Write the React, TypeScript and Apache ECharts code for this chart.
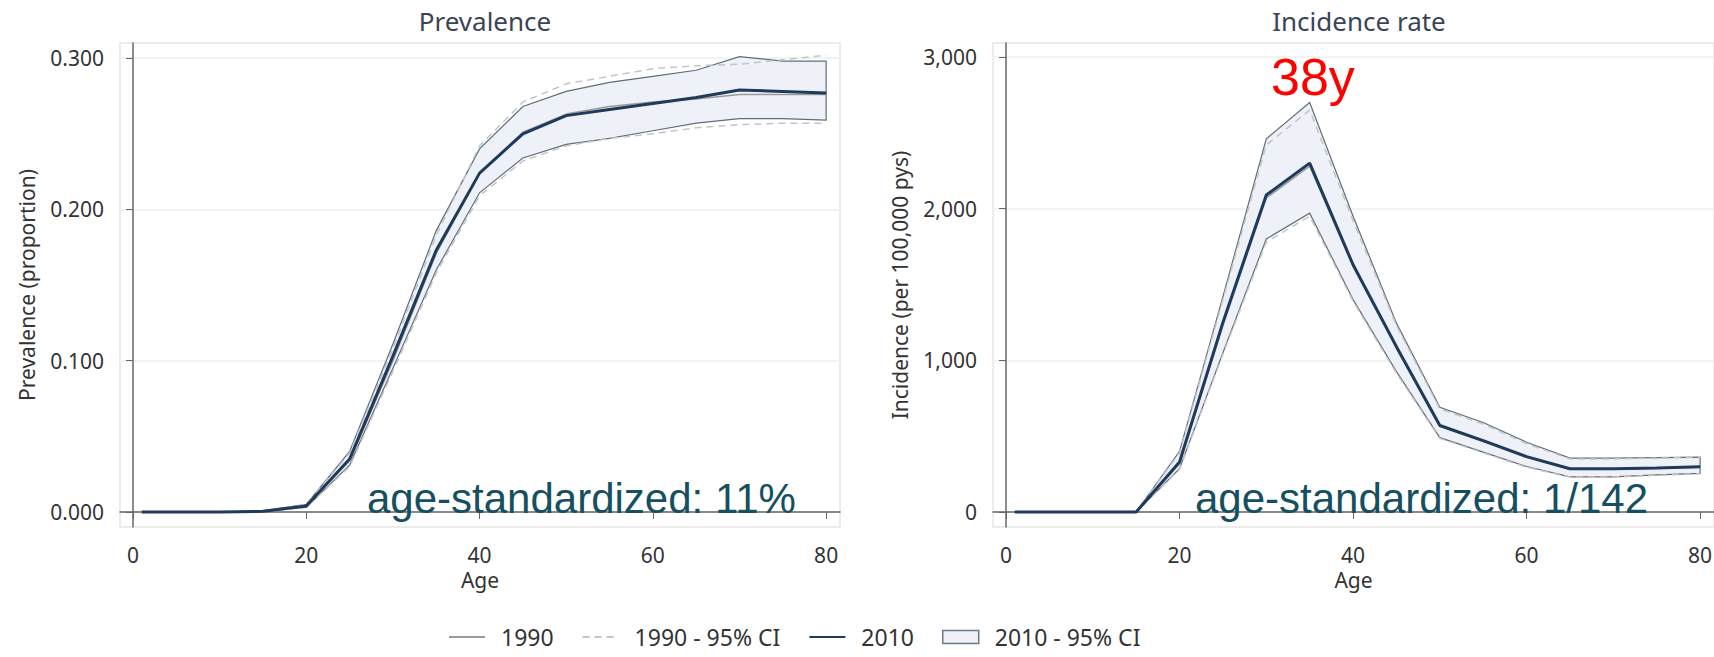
import React, { useEffect, useRef } from "react";
import * as echarts from "echarts";

// ---------- data ----------
const ages = [1, 5, 10, 15, 20, 25, 30, 35, 40, 45, 50, 55, 60, 65, 70, 75, 80];

const prev2010 = [0, 0, 0, 0.0005, 0.004, 0.035, 0.103, 0.173, 0.224, 0.25, 0.262, 0.266, 0.27, 0.274, 0.279, 0.278, 0.277];
const prev2010Upper = [0, 0, 0, 0.0008, 0.005, 0.04, 0.111, 0.186, 0.24, 0.268, 0.278, 0.284, 0.288, 0.292, 0.301, 0.298, 0.298];
const prev2010Lower = [0, 0, 0, 0.0003, 0.003, 0.031, 0.095, 0.16, 0.211, 0.234, 0.243, 0.247, 0.252, 0.257, 0.26, 0.26, 0.259];
const prev1990 = [0, 0, 0, 0.0005, 0.004, 0.034, 0.1, 0.171, 0.224, 0.251, 0.263, 0.268, 0.271, 0.273, 0.276, 0.276, 0.276];
const prev1990Upper = [0, 0, 0, 0.0008, 0.005, 0.039, 0.108, 0.183, 0.242, 0.271, 0.283, 0.288, 0.293, 0.295, 0.296, 0.299, 0.302];
const prev1990Lower = [0, 0, 0, 0.0003, 0.003, 0.03, 0.093, 0.158, 0.209, 0.232, 0.242, 0.247, 0.25, 0.254, 0.256, 0.257, 0.257];

const inc2010 = [0, 0, 0, 0, 330, 1250, 2090, 2300, 1630, 1090, 570, 470, 365, 285, 285, 290, 298];
const inc2010Upper = [0, 0, 0, 0, 400, 1420, 2460, 2700, 1950, 1245, 690, 590, 460, 355, 355, 358, 362];
const inc2010Lower = [0, 0, 0, 0, 285, 1050, 1800, 1970, 1400, 925, 490, 395, 300, 232, 232, 245, 255];
const inc1990 = [0, 0, 0, 0, 320, 1230, 2070, 2280, 1620, 1080, 565, 465, 360, 282, 282, 288, 295];
const inc1990Upper = [0, 0, 0, 0, 390, 1400, 2420, 2650, 1920, 1230, 680, 580, 450, 350, 350, 355, 360];
const inc1990Lower = [0, 0, 0, 0, 280, 1040, 1780, 1950, 1390, 915, 485, 390, 295, 230, 230, 242, 252];

const xTicks = [0, 20, 40, 60, 80];
const prevTicks = [0, 0.1, 0.2, 0.3];
const incTicks = [0, 1000, 2000, 3000];

const titles = ["Prevalence", "Incidence rate"];
const yNames = ["Prevalence (proportion)", "Incidence (per 100,000 pys)"];
const xName = "Age";
const notes = ["age-standardized: 11%", "age-standardized: 1/142"];
const peakNote = "38y";
const legendNames = ["1990", "1990 - 95% CI", "2010", "2010 - 95% CI"];

// ---------- styles ----------
const FONT = "Noto Sans";
const AXIS_COL = "#666666";
const BAND_FILL = "#eef2f8";
const BAND_STROKE = "#5f6d7d";
const C2010 = "#1f3a5a";
const C1990 = "#9a9a9a";
const C1990CI = "#c4c4c4";

const pairs = (ys: number[]) => ages.map((a, i) => [a, ys[i]]);

function bandSeries(idx: number, upper: number[], lower: number[]) {
  return {
    type: "custom",
    name: legendNames[3],
    xAxisIndex: idx,
    yAxisIndex: idx,
    z: 1,
    data: [[ages[0], lower[0]]],
    renderItem: (params: any, api: any) => {
      if (params.dataIndex !== 0) return null;
      const pts: number[][] = [];
      for (let i = 0; i < ages.length; i++) pts.push(api.coord([ages[i], upper[i]]));
      for (let i = ages.length - 1; i >= 0; i--) pts.push(api.coord([ages[i], lower[i]]));
      return {
        type: "polygon",
        shape: { points: pts },
        style: { fill: BAND_FILL, stroke: BAND_STROKE, lineWidth: 1.2 },
      };
    },
  };
}

function lineSeries(idx: number, name: string, ys: number[], color: string, width: number, dashed: boolean, z: number) {
  return {
    type: "line",
    name,
    xAxisIndex: idx,
    yAxisIndex: idx,
    data: pairs(ys),
    symbol: "none",
    z,
    lineStyle: { color, width, type: dashed ? [7, 5] : "solid" },
    itemStyle: { color },
  };
}

function makeXAxis(gridIndex: number) {
  return {
    type: "value",
    gridIndex,
    min: -1.5,
    max: 81.6,
    name: xName,
    nameLocation: "middle",
    nameGap: 40,
    nameTextStyle: { fontSize: 21, color: "#333", fontFamily: FONT },
    axisLine: { show: true, lineStyle: { color: AXIS_COL, width: 1.5 } },
    axisTick: { show: true, length: 7, lineStyle: { color: AXIS_COL }, customValues: xTicks },
    axisLabel: { customValues: xTicks, fontSize: 21, color: "#333", fontFamily: FONT, margin: 17 },
    splitLine: { show: false },
  };
}

function makeYAxis(gridIndex: number, min: number, max: number, ticks: number[], fmt: (v: number) => string, name: string) {
  return {
    type: "value",
    gridIndex,
    min,
    max,
    name,
    nameLocation: "middle",
    nameGap: 83,
    nameTextStyle: { fontSize: 21, color: "#333", fontFamily: FONT },
    axisLine: { show: true, lineStyle: { color: AXIS_COL, width: 1.5 } },
    axisTick: { show: true, length: 7, lineStyle: { color: AXIS_COL }, customValues: ticks },
    axisLabel: { customValues: ticks, fontSize: 21, color: "#333", fontFamily: FONT, margin: 16, formatter: fmt },
    splitLine: { show: true, lineStyle: { color: "#efefef", width: 1.5 } },
  };
}

export default function App() {
  const ref = useRef<HTMLDivElement>(null);

  useEffect(() => {
    if (!ref.current) return;
    const chart = echarts.init(ref.current, undefined, { renderer: "svg" });
    const option: any = {
      animation: false,
      backgroundColor: "#ffffff",
      textStyle: { fontFamily: FONT },
      title: [
        { text: titles[0], left: 480, top: 3, textAlign: "center", textStyle: { fontSize: 26, fontWeight: "normal", color: "#3b4457", fontFamily: FONT } },
        { text: titles[1], left: 1354, top: 3, textAlign: "center", textStyle: { fontSize: 26, fontWeight: "normal", color: "#3b4457", fontFamily: FONT } },
      ],
      grid: [
        { left: 120, top: 43, width: 720, height: 484, show: true, borderColor: "#e6e6e6", borderWidth: 1.5, containLabel: false, outerBoundsMode: "none" },
        { left: 993, top: 43, width: 721, height: 484, show: true, borderColor: "#e6e6e6", borderWidth: 1.5, containLabel: false, outerBoundsMode: "none" },
      ],
      xAxis: [makeXAxis(0), makeXAxis(1)],
      yAxis: [
        makeYAxis(0, -0.0099, 0.31, prevTicks, (v: number) => v.toFixed(3), yNames[0]),
        makeYAxis(1, -99, 3092, incTicks, (v: number) => v.toLocaleString("en-US"), yNames[1]),
      ],
      legend: {
        left: 443,
        top: 620,
        itemWidth: 36,
        itemHeight: 13,
        itemGap: 28,
        textStyle: { fontSize: 23, lineHeight: 24, color: "#333", fontFamily: FONT, padding: [0, 0, 0, 11] },
        data: [
          { name: legendNames[0], itemStyle: { opacity: 0 } },
          { name: legendNames[1], itemStyle: { opacity: 0 } },
          { name: legendNames[2], itemStyle: { opacity: 0 } },
          { name: legendNames[3], icon: "rect", itemStyle: { color: BAND_FILL, borderColor: "#6b7888", borderWidth: 1.5 } },
        ],
      },
      graphic: [
        { type: "text", x: 367, y: 498, z: 100, style: { text: notes[0], font: "42px 'Liberation Sans', Arial, sans-serif", fill: "#154f60", verticalAlign: "middle", align: "left" } },
        { type: "text", x: 1195, y: 498, z: 100, style: { text: notes[1], font: "42px 'Liberation Sans', Arial, sans-serif", fill: "#154f60", verticalAlign: "middle", align: "left" } },
        { type: "text", x: 1271, y: 77, z: 100, style: { text: peakNote, font: "52px 'Liberation Sans', Arial, sans-serif", fill: "#ff0000", verticalAlign: "middle", align: "left" } },
      ],
      series: [
        bandSeries(0, prev2010Upper, prev2010Lower),
        lineSeries(0, legendNames[1], prev1990Upper, C1990CI, 1.5, true, 3),
        lineSeries(0, legendNames[1], prev1990Lower, C1990CI, 1.5, true, 3),
        lineSeries(0, legendNames[0], prev1990, C1990, 1.5, false, 4),
        lineSeries(0, legendNames[2], prev2010, C2010, 3, false, 5),
        bandSeries(1, inc2010Upper, inc2010Lower),
        lineSeries(1, legendNames[1], inc1990Upper, C1990CI, 1.5, true, 3),
        lineSeries(1, legendNames[1], inc1990Lower, C1990CI, 1.5, true, 3),
        lineSeries(1, legendNames[0], inc1990, C1990, 1.5, false, 4),
        lineSeries(1, legendNames[2], inc2010, C2010, 3, false, 5),
      ],
    };
    chart.setOption(option);
    return () => chart.dispose();
  }, []);

  return <div ref={ref} style={{ position: "fixed", left: 0, top: 0, width: 1714, height: 657 }} />;
}
